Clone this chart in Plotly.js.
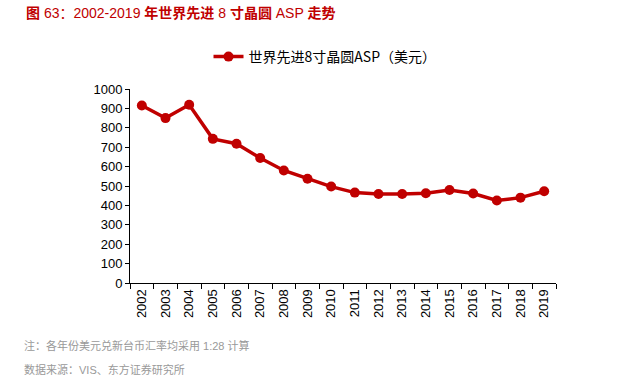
<!DOCTYPE html>
<html><head><meta charset="utf-8">
<script src="https://cdn.plot.ly/plotly-3.0.1.min.js"></script>
<style>body{margin:0;background:#fff}#c{width:617px;height:377px}</style>
</head><body><div id="c"></div>
<script>
const years = ['2002','2003','2004','2005','2006','2007','2008','2009','2010','2011','2012','2013','2014','2015','2016','2017','2018','2019'];
const asp = [915,850,919,743,718,644,580,537,497,466,459,459,463,479,461,425,440,473];
const seriesName = '世界先进8寸晶圆ASP（美元）';
const titleText = '图 63：2002-2019 年世界先进 8 寸晶圆 ASP 走势';
const noteText = '注：各年份美元兑新台币汇率均采用 1:28 计算';
const sourceText = '数据来源：VIS、东方证券研究所';

const red = '#c00000';
const font = '"Liberation Sans", "Noto Sans CJK SC", Arial, sans-serif';
const PL = 130, PR = 556, PT = 89, PB = 283;
const W = PR - PL, H = PB - PT;
// CJK runs bold, Latin runs regular, as in the reference title
const titleMarkup = titleText.replace(/([\u4e00-\u9fff]+)/g, '<b>$1</b>');

Plotly.newPlot('c', [{
  x: years, y: asp, type: 'scatter', mode: 'lines+markers', name: seriesName,
  line: {color: red, width: 3.5}, marker: {color: red, size: 10}
}], {
  width: 617, height: 377,
  margin: {l: PL, r: 617 - PR, t: PT, b: 377 - PB, autoexpand: false},
  paper_bgcolor: '#fff', plot_bgcolor: '#fff',
  font: {family: font, size: 12, color: '#000'},
  showlegend: true,
  legend: {orientation: 'h', xref: 'container', yref: 'container', x: 325/617, xanchor: 'center',
    y: 1 - 57/377, yanchor: 'middle',
    font: {family: '"Noto Sans CJK SC", sans-serif', size: 14, color: '#000'}},
  xaxis: {type: 'category', range: [-0.5, years.length - 0.5], tickangle: -90, tickson: 'boundaries',
    ticks: 'outside', ticklen: 5,
    tickcolor: '#000', showline: true, linecolor: '#000', linewidth: 1, showgrid: false,
    tickfont: {size: 13}, automargin: false},
  yaxis: {range: [0, 1000], dtick: 100, ticks: 'outside', ticklen: 4, tickcolor: '#000',
    showline: true, linecolor: '#000', linewidth: 1, showgrid: false, zeroline: false,
    tickfont: {size: 13}, automargin: false},
  annotations: [
    {text: titleMarkup, xref: 'paper', yref: 'paper', x: (24 - PL)/W, xanchor: 'left',
     y: 1 + (PT - 13)/H, yanchor: 'middle', showarrow: false,
     font: {family: font, size: 14, color: red}},
    {text: noteText, xref: 'paper', yref: 'paper', x: (22 - PL)/W, xanchor: 'left',
     y: -(345 - PB)/H, yanchor: 'middle', showarrow: false,
     font: {family: font, size: 11, color: '#999999'}},
    {text: sourceText, xref: 'paper', yref: 'paper', x: (22 - PL)/W, xanchor: 'left',
     y: -(369 - PB)/H, yanchor: 'middle', showarrow: false,
     font: {family: font, size: 11, color: '#999999'}}
  ]
}, {displayModeBar: false, staticPlot: true});
</script></body></html>
